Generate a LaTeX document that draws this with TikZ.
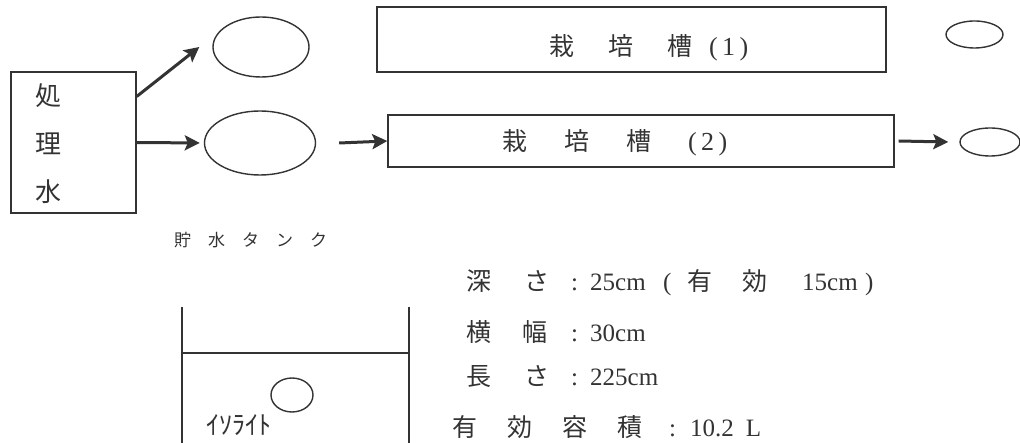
\documentclass[tikz,border=0pt]{standalone}
\usepackage{fontspec}
\setmainfont{Noto Sans CJK JP}
\newfontfamily\tm{Liberation Serif}
\usetikzlibrary{shapes.geometric, arrows.meta}
\colorlet{ink}{black!80}
\newcommand{\cell}[2]{\makebox[#1][l]{#2}}
\newcommand{\paren}[1]{{\tm\fontsize{26}{30}\selectfont (\,#1\,)}}

\begin{document}
\begin{tikzpicture}[x=1pt, y=-1pt,
    box/.style={draw=ink, line width=1.4pt, inner sep=0pt},
    tank/.style={ellipse, draw=ink, line width=1.4pt, inner sep=0pt},
    flow/.style={draw=ink, line width=3pt, -{Stealth[length=15pt, width=15pt, inset=3pt]}},
    lbl/.style={text=ink, inner sep=0pt, anchor=west, font=\fontsize{25}{28}\selectfont}]
  \useasboundingbox (0,0) rectangle (1020,443);

  % treated water and the two storage tanks
  \node[box, minimum width=125pt, minimum height=141pt] (shori) at (73.5,142.5) {};
  \node[text=ink, inner sep=0pt, align=center, font=\fontsize{26}{48}\selectfont] (shoritxt) at (48,144) {処\\理\\水};
  \node[tank, minimum width=96pt, minimum height=60pt] (tank1) at (261,47) {};
  \node[tank, minimum width=111pt, minimum height=64pt] (tank2) at (260,143) {};
  \node[lbl, font=\fontsize{17}{20}\selectfont] (tanklbl) at (174,240) {貯\hspace{17pt}水\hspace{17pt}タ\hspace{17pt}ン\hspace{17pt}ク};

  % cultivation beds
  \node[box, minimum width=509pt, minimum height=65pt] (bed1) at (631.5,39.5) {};
  \node[lbl] (bed1lbl) at (549,48) {栽\hspace{34pt}培\hspace{34pt}槽\hspace{17pt}\paren{1}};
  \node[box, minimum width=506pt, minimum height=52pt] (bed2) at (641,141) {};
  \node[lbl] (bed2lbl) at (502,143) {栽\hspace{37pt}培\hspace{37pt}槽\hspace{37pt}\paren{2}};
  \node[tank, minimum width=57pt, minimum height=27pt] (out1) at (974.5,34.5) {};
  \node[tank, minimum width=60pt, minimum height=28pt] (out2) at (990,142) {};

  \draw[flow] ([yshift=46pt]shori.east) -- ([xshift=-13pt]tank1.west);
  \draw[flow, shorten >=4pt] (shori.east) -- (tank2.west);
  \draw[flow] ([xshift=23pt]tank2.east) -- (bed2.west);
  \draw[flow] ([xshift=4pt]bed2.east) -- ([xshift=-11pt]out2.west);

  % cross section of a bed
  \draw[ink, line width=2.8pt] (182,307) -- (182,444) (409,307) -- (409,444);
  \draw[ink, line width=1.4pt] (182,353) -- (409,353);
  \node[tank, minimum width=42pt, minimum height=34pt] (stone) at (292,395) {};
  \node[lbl, font=\fontsize{26}{30}\selectfont] (stonelbl) at (206,425) {ｲｿﾗｲﾄ};

  % dimensions
  \node[lbl] (depth) at (466,283) {\cell{58pt}{深}\cell{47pt}{さ}\cell{19pt}{\tm :}\cell{73pt}{\tm 25cm}\cell{24pt}{\tm (}\cell{55pt}{有}\cell{60pt}{効}\cell{63pt}{\tm 15cm}{\tm )}};
  \node[lbl] (width) at (466,332) {\cell{56pt}{横}\cell{49pt}{幅}\cell{19pt}{\tm :}{\tm 30cm}};
  \node[lbl] (length) at (466,377) {\cell{58pt}{長}\cell{47pt}{さ}\cell{19pt}{\tm :}{\tm 225cm}};
  \node[lbl] (volume) at (452,427) {\cell{55pt}{有}\cell{55pt}{効}\cell{55pt}{容}\cell{52pt}{積}\cell{21pt}{\tm :}{\tm 10.2\hspace{12pt}L}};
\end{tikzpicture}
\end{document}
